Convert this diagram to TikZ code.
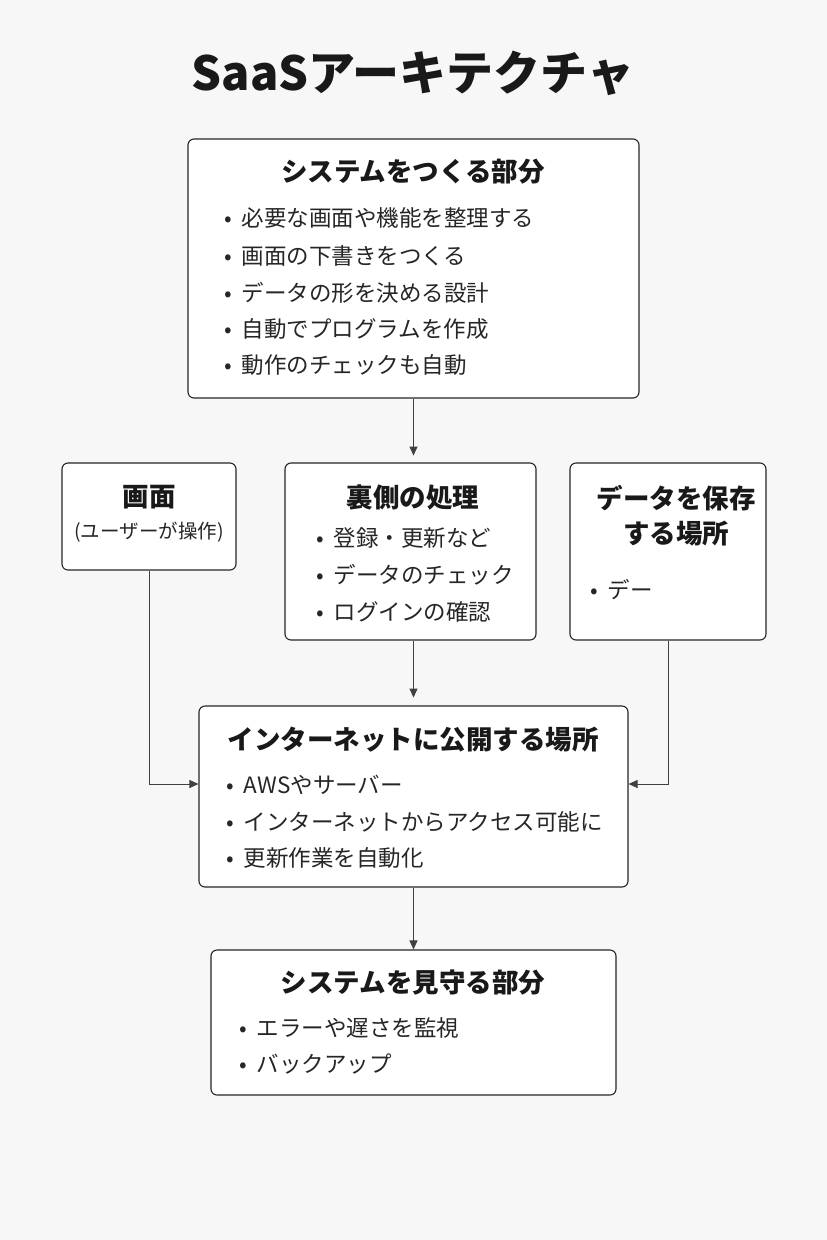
\documentclass[tikz,border=0pt]{standalone}
\usepackage{fontspec}
\setmainfont{Noto Sans CJK JP}
\usetikzlibrary{arrows.meta}
\begin{document}
\begin{tikzpicture}[x=1pt,y=-1pt,
 box/.style={draw=black!85,line width=1.1pt,rounded corners=6pt,fill=white,inner sep=0pt},
 ttl/.style={font=\fontsize{26.5}{31}\selectfont\bfseries,text=black!90},
 itm/.style={anchor=west,font=\fontsize{22.5}{25}\selectfont,text=black!85,inner sep=0pt},
 arr/.style={draw=black!75,line width=0.9pt,-{Triangle[length=9pt,width=8pt]}}]
\fill[white!97!black] (0,0) rectangle (827,1240);
\useasboundingbox (0,0) rectangle (827,1240);
\node[font=\fontsize{47}{52}\selectfont\bfseries,text=black!90] (T) at (413,73) {SaaSアーキテクチャ};
% boxes
\node[box,minimum width=451pt,minimum height=259pt] (top) at (413.5,268.5) {};
\node[box,minimum width=174pt,minimum height=107pt] (left) at (149,516.5) {};
\node[box,minimum width=251pt,minimum height=177pt] (mid) at (410.5,551.5) {};
\node[box,minimum width=196pt,minimum height=177pt] (right) at (668,551.5) {};
\node[box,minimum width=429pt,minimum height=181pt] (net) at (413.5,796.5) {};
\node[box,minimum width=405pt,minimum height=145pt] (mon) at (413.5,1022.5) {};
% top texts
\node[ttl] (t1) at (413,172) {システムをつくる部分};
\node[itm] (a1) at (224,218) {•\hspace{10pt}必要な画面や機能を整理する};
\node[itm] (a2) at (224,256) {•\hspace{10pt}画面の下書きをつくる};
\node[itm] (a3) at (224,293) {•\hspace{10pt}データの形を決める設計};
\node[itm] (a4) at (224,329) {•\hspace{10pt}自動でプログラムを作成};
\node[itm] (a5) at (224,365) {•\hspace{10pt}動作のチェックも自動};
% left
\node[ttl] (t2) at (149,497) {画面};
\node[font=\fontsize{19.5}{22}\selectfont,text=black!85] (s2) at (149,532) {(ユーザーが操作)};
% mid
\node[ttl] (t3) at (413,497) {裏側の処理};
\node[itm] (b1) at (316,538) {•\hspace{10pt}登録・更新など};
\node[itm] (b2) at (316,575) {•\hspace{10pt}データのチェック};
\node[itm] (b3) at (316,612) {•\hspace{10pt}ログインの確認};
% right
\node[ttl,align=center] (t4) at (676,516) {データを保存\\[4pt]する場所};
\node[itm] (c1) at (590,590) {•\hspace{10pt}デー};
% net
\node[ttl] (t5) at (413,740) {インターネットに公開する場所};
\node[itm] (d1) at (226,785) {•\hspace{10pt}AWSやサーバー};
\node[itm] (d2) at (226,822) {•\hspace{10pt}インターネットからアクセス可能に};
\node[itm] (d3) at (226,858) {•\hspace{10pt}更新作業を自動化};
% mon
\node[ttl] (t6) at (413,983) {システムを見守る部分};
\node[itm] (e1) at (239,1028) {•\hspace{10pt}エラーや遅さを監視};
\node[itm] (e2) at (239,1064) {•\hspace{10pt}バックアップ};
% connectors
\coordinate (lc) at (148,784);
\coordinate (rc) at (669,784);
\draw[arr] (top.south) -- ++(0,57);
\draw[arr] ([xshift=3pt]mid.south) -- ++(0,57);
\draw[arr] (left.south) |- (net.west |- lc);
\draw[arr] (right.south) |- (net.east |- rc);
\draw[arr] (net.south) -- (mon.north);
\end{tikzpicture}
\end{document}
